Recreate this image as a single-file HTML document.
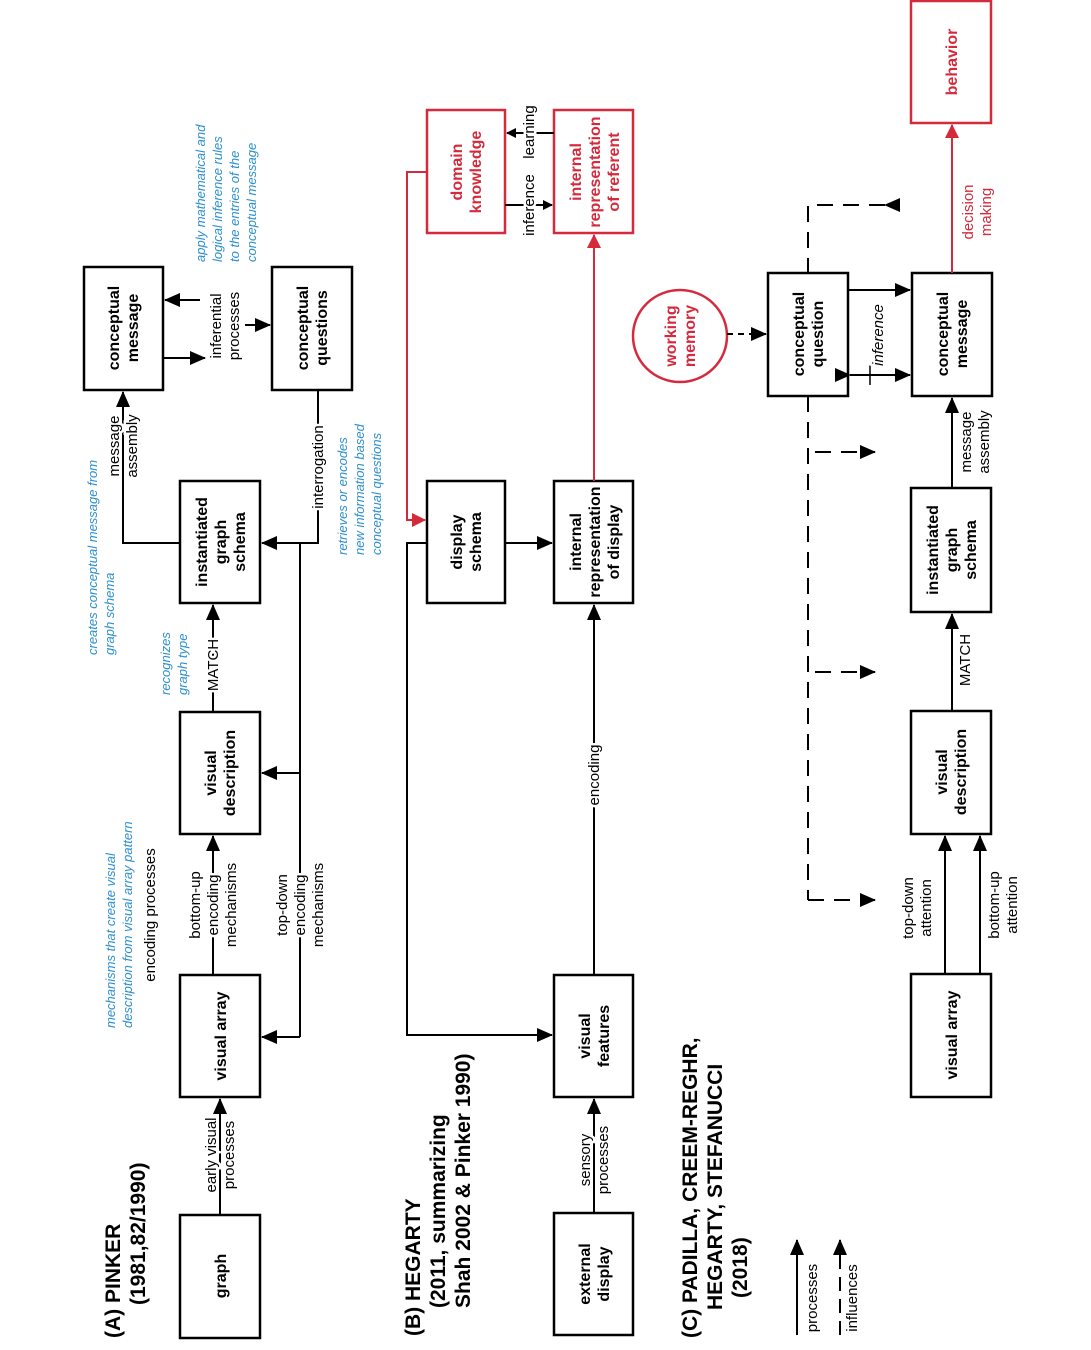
<!DOCTYPE html>
<html><head><meta charset="utf-8"><style>
html,body{margin:0;padding:0;background:#fff}
svg{display:block;font-family:"Liberation Sans",sans-serif}
.b{font-weight:bold;font-size:16px}
.l{font-size:15px}
.bl{font-size:13px;font-style:italic;fill:#2b8fd0}
.t{font-size:21px;font-weight:bold}
.h{paint-order:stroke;stroke:#fff;stroke-width:5px}
</style></head><body>
<svg width="1091" height="1350" viewBox="0 0 1091 1350" xmlns="http://www.w3.org/2000/svg">
<defs>
<marker id="a" markerWidth="10" markerHeight="10" refX="9" refY="5" orient="auto" markerUnits="userSpaceOnUse"><path d="M0,0 L10,5 L0,10 z" fill="#000"/></marker>
<marker id="as" markerWidth="10" markerHeight="10" refX="9" refY="5" orient="auto" markerUnits="userSpaceOnUse"><path d="M0,0 L10,5 L0,10 z" fill="#000"/></marker>
<marker id="r" markerWidth="14" markerHeight="14" refX="13" refY="7" orient="auto" markerUnits="userSpaceOnUse"><path d="M0,0 L14,7 L0,14 z" fill="#d42a3c"/></marker>
<marker id="k" markerWidth="16" markerHeight="14" refX="15" refY="7" orient="auto" markerUnits="userSpaceOnUse"><path d="M0,0 L16,7 L0,14 z" fill="#000"/></marker>
</defs>
<g fill="none" stroke="#000" stroke-width="2.5">
<!-- A boxes -->
<rect x="180" y="1215" width="80" height="123"/>
<rect x="180" y="975" width="80" height="122"/>
<rect x="180" y="712" width="80" height="122"/>
<rect x="180" y="481" width="80" height="122"/>
<rect x="84" y="267" width="79" height="123"/>
<rect x="272" y="267" width="80" height="123"/>
<!-- B boxes -->
<rect x="427" y="481" width="78" height="122"/>
<rect x="554" y="481" width="79" height="122"/>
<rect x="554" y="975" width="79" height="122"/>
<rect x="554" y="1213" width="79" height="122"/>
<!-- C boxes -->
<rect x="768" y="273" width="80" height="123"/>
<rect x="912" y="273" width="80" height="123"/>
<rect x="911" y="488" width="80" height="124"/>
<rect x="911" y="711" width="80" height="123"/>
<rect x="911" y="974" width="80" height="123"/>
</g>
<g fill="none" stroke="#d42a3c" stroke-width="2.5">
<rect x="427" y="110" width="78" height="123"/>
<rect x="554" y="110" width="79" height="123"/>
<rect x="911" y="1" width="80" height="122"/>
<ellipse cx="680" cy="336" rx="47" ry="46"/>
</g>
<!-- A connectors -->
<g fill="none" stroke="#000" stroke-width="2">
<line x1="220" y1="1215" x2="220" y2="1099" marker-end="url(#k)"/>
<line x1="213" y1="975" x2="213" y2="836" marker-end="url(#k)"/>
<line x1="213" y1="712" x2="213" y2="605" marker-end="url(#k)"/>
<polyline points="180,543 123,543 123,392" marker-end="url(#k)"/>
<line x1="163" y1="358" x2="205" y2="358" marker-end="url(#k)"/>
<line x1="200" y1="300" x2="165" y2="300" marker-end="url(#k)"/>
<line x1="245" y1="325" x2="270" y2="325" marker-end="url(#k)"/>
<polyline points="318,390 318,543 262,543" marker-end="url(#k)"/>
<line x1="300" y1="543" x2="300" y2="1037"/>
<line x1="300" y1="1037" x2="262" y2="1037" marker-end="url(#k)"/>
<line x1="300" y1="773" x2="262" y2="773" marker-end="url(#k)"/>
</g>
<!-- B connectors -->
<g fill="none" stroke="#000" stroke-width="2">
<line x1="594" y1="1213" x2="594" y2="1099" marker-end="url(#k)"/>
<line x1="594" y1="975" x2="594" y2="605" marker-end="url(#k)"/>
<polyline points="427,543 407,543 407,1035 552,1035" marker-end="url(#k)"/>
<line x1="505" y1="543" x2="552" y2="543" marker-end="url(#k)"/>
<line x1="505" y1="205" x2="552" y2="205" marker-end="url(#as)"/>
<line x1="554" y1="133" x2="507" y2="133" marker-end="url(#as)"/>
</g>
<g fill="none" stroke="#d42a3c" stroke-width="2">
<line x1="594" y1="481" x2="594" y2="235" marker-end="url(#r)"/>
<polyline points="427,172 407,172 407,520 425,520" marker-end="url(#r)"/>
<line x1="952" y1="273" x2="952" y2="125" marker-end="url(#r)"/>
</g>
<!-- C connectors -->
<g fill="none" stroke="#000" stroke-width="2">
<line x1="952" y1="488" x2="952" y2="398" marker-end="url(#k)"/>
<line x1="952" y1="711" x2="952" y2="614" marker-end="url(#k)"/>
<line x1="945" y1="974" x2="945" y2="836" marker-end="url(#k)"/>
<line x1="980" y1="974" x2="980" y2="836" marker-end="url(#k)"/>
<line x1="848" y1="290" x2="910" y2="290" marker-end="url(#k)"/>
<line x1="850" y1="375" x2="910" y2="375" marker-start="url(#k)" marker-end="url(#k)"/>
<line x1="870" y1="365" x2="870" y2="385" stroke-width="1.5"/>
<line x1="727" y1="334" x2="766" y2="334" stroke-dasharray="6,5" marker-end="url(#k)"/>
<polyline points="885,205 808,205 808,273" stroke-dasharray="16,10" marker-start="url(#k)"/>
<line x1="808" y1="396" x2="808" y2="900" stroke-dasharray="16,10"/>
<line x1="815" y1="452" x2="875" y2="452" stroke-dasharray="16,10" marker-end="url(#k)"/>
<line x1="815" y1="672" x2="875" y2="672" stroke-dasharray="16,10" marker-end="url(#k)"/>
<line x1="808" y1="900" x2="875" y2="900" stroke-dasharray="16,10" marker-end="url(#k)"/>
<line x1="797" y1="1335" x2="797" y2="1240" marker-end="url(#k)"/>
<line x1="840" y1="1335" x2="840" y2="1240" stroke-dasharray="14,8" marker-end="url(#k)"/>
</g>
<!-- Box labels -->
<g class="b" text-anchor="middle">
<text transform="translate(220,1276) rotate(-90)" y="6">graph</text>
<text transform="translate(220,1036) rotate(-90)" y="6">visual array</text>
<text transform="translate(220,773) rotate(-90)"><tspan x="0" y="-4">visual</tspan><tspan x="0" y="15">description</tspan></text>
<text transform="translate(220,542) rotate(-90)"><tspan x="0" y="-13">instantiated</tspan><tspan x="0" y="6">graph</tspan><tspan x="0" y="25">schema</tspan></text>
<text transform="translate(123,328) rotate(-90)"><tspan x="0" y="-4">conceptual</tspan><tspan x="0" y="15">message</tspan></text>
<text transform="translate(312,328) rotate(-90)"><tspan x="0" y="-4">conceptual</tspan><tspan x="0" y="15">questions</tspan></text>
<text transform="translate(466,542) rotate(-90)"><tspan x="0" y="-4">display</tspan><tspan x="0" y="15">schema</tspan></text>
<text transform="translate(594,542) rotate(-90)"><tspan x="0" y="-13">internal</tspan><tspan x="0" y="6">representation</tspan><tspan x="0" y="25">of display</tspan></text>
<text transform="translate(594,1036) rotate(-90)"><tspan x="0" y="-4">visual</tspan><tspan x="0" y="15">features</tspan></text>
<text transform="translate(594,1274) rotate(-90)"><tspan x="0" y="-4">external</tspan><tspan x="0" y="15">display</tspan></text>
<text transform="translate(808,334) rotate(-90)"><tspan x="0" y="-4">conceptual</tspan><tspan x="0" y="15">question</tspan></text>
<text transform="translate(952,334) rotate(-90)"><tspan x="0" y="-4">conceptual</tspan><tspan x="0" y="15">message</tspan></text>
<text transform="translate(951,550) rotate(-90)"><tspan x="0" y="-13">instantiated</tspan><tspan x="0" y="6">graph</tspan><tspan x="0" y="25">schema</tspan></text>
<text transform="translate(951,772) rotate(-90)"><tspan x="0" y="-4">visual</tspan><tspan x="0" y="15">description</tspan></text>
<text transform="translate(951,1035) rotate(-90)" y="6">visual array</text>
</g>
<g class="b" text-anchor="middle" fill="#d42a3c">
<text transform="translate(466,172) rotate(-90)"><tspan x="0" y="-4">domain</tspan><tspan x="0" y="15">knowledge</tspan></text>
<text transform="translate(594,172) rotate(-90)"><tspan x="0" y="-13">internal</tspan><tspan x="0" y="6">representation</tspan><tspan x="0" y="25">of referent</tspan></text>
<text transform="translate(951,62) rotate(-90)" y="6">behavior</text>
<text transform="translate(680,336) rotate(-90)"><tspan x="0" y="-4">working</tspan><tspan x="0" y="15">memory</tspan></text>
</g>
<!-- Connector labels -->
<g class="l h" text-anchor="middle">
<text transform="translate(220,1155) rotate(-90)"><tspan x="0" y="-4">early visual</tspan><tspan x="0" y="14">processes</tspan></text>
<text transform="translate(213,905) rotate(-90)"><tspan x="0" y="-13">bottom-up</tspan><tspan x="0" y="5">encoding</tspan><tspan x="0" y="23">mechanisms</tspan></text>
<text transform="translate(300,905) rotate(-90)"><tspan x="0" y="-13">top-down</tspan><tspan x="0" y="5">encoding</tspan><tspan x="0" y="23">mechanisms</tspan></text>
<text transform="translate(213,665) rotate(-90)" y="5">MATCH</text>
<text transform="translate(123,446) rotate(-90)"><tspan x="0" y="-4">message</tspan><tspan x="0" y="14">assembly</tspan></text>
<text transform="translate(225,326) rotate(-90)"><tspan x="0" y="-4">inferential</tspan><tspan x="0" y="14">processes</tspan></text>
<text transform="translate(318,467) rotate(-90)" y="5">interrogation</text>
<text transform="translate(150,915) rotate(-90)" y="5">encoding processes</text>
<text transform="translate(594,1160) rotate(-90)"><tspan x="0" y="-4">sensory</tspan><tspan x="0" y="14">processes</tspan></text>
<text transform="translate(594,775) rotate(-90)" y="5">encoding</text>
<text transform="translate(529,205) rotate(-90)" y="5">inference</text>
<text transform="translate(529,132) rotate(-90)" y="5">learning</text>
<text transform="translate(878,335) rotate(-90)" y="5" font-style="italic">inference</text>
<text transform="translate(975,442) rotate(-90)"><tspan x="0" y="-4">message</tspan><tspan x="0" y="14">assembly</tspan></text>
<text transform="translate(965,660) rotate(-90)" y="5">MATCH</text>
<text transform="translate(917,908) rotate(-90)"><tspan x="0" y="-4">top-down</tspan><tspan x="0" y="14">attention</tspan></text>
<text transform="translate(1003,905) rotate(-90)"><tspan x="0" y="-4">bottom-up</tspan><tspan x="0" y="14">attention</tspan></text>
<text transform="translate(812,1298) rotate(-90)" y="5">processes</text>
<text transform="translate(852,1298) rotate(-90)" y="5">influences</text>
</g>
<text class="l" fill="#d42a3c" text-anchor="middle" transform="translate(977,212) rotate(-90)"><tspan x="0" y="-4">decision</tspan><tspan x="0" y="14">making</tspan></text>
<!-- blue annotations -->
<g class="bl">
<text transform="translate(205,262) rotate(-90)"><tspan x="0" y="0">apply mathematical and</tspan><tspan x="0" y="17">logical inference rules</tspan><tspan x="0" y="34">to the entries of the</tspan><tspan x="0" y="51">conceptual message</tspan></text>
<text transform="translate(347,555) rotate(-90)"><tspan x="0" y="0">retrieves or encodes</tspan><tspan x="0" y="17">new information based</tspan><tspan x="0" y="34">conceptual questions</tspan></text>
<text transform="translate(97,655) rotate(-90)"><tspan x="0" y="0">creates conceptual message from</tspan><tspan x="0" y="17">graph schema</tspan></text>
<text transform="translate(170,695) rotate(-90)"><tspan x="0" y="0">recognizes</tspan><tspan x="0" y="17">graph type</tspan></text>
<text transform="translate(115,1028) rotate(-90)"><tspan x="0" y="0">mechanisms that create visual</tspan><tspan x="0" y="17">description from visual array pattern</tspan></text>
</g>
<!-- titles -->
<g class="t">
<text transform="translate(120,1338) rotate(-90)"><tspan x="0" y="0">(A) PINKER</tspan><tspan x="33" y="25">(1981,82/1990)</tspan></text>
<text transform="translate(420,1336) rotate(-90)"><tspan x="0" y="0">(B) HEGARTY</tspan><tspan x="28" y="25">(2011, summarizing</tspan><tspan x="28" y="50">Shah 2002 &amp; Pinker 1990)</tspan></text>
<text transform="translate(697,1338) rotate(-90)"><tspan x="0" y="0">(C) PADILLA, CREEM-REGHR,</tspan><tspan x="28" y="25">HEGARTY, STEFANUCCI</tspan><tspan x="40" y="50">(2018)</tspan></text>
</g>
</svg>
</body></html>
